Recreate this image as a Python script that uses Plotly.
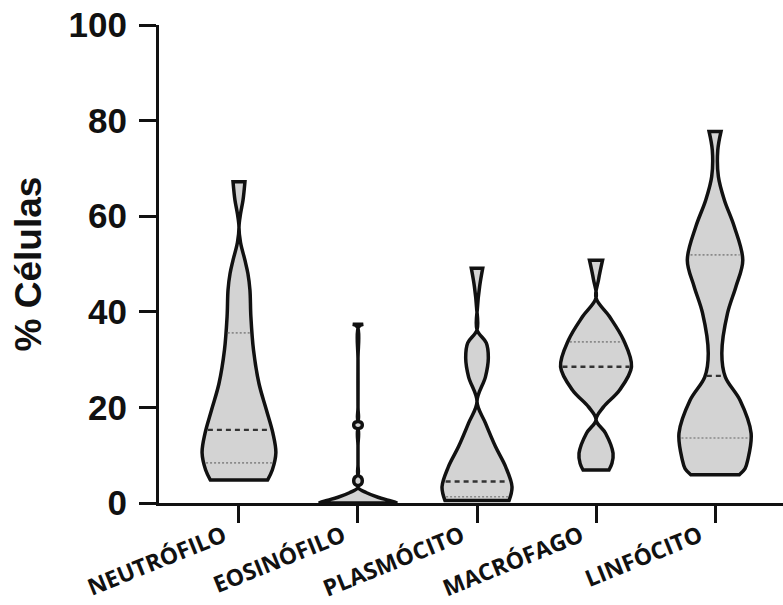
import numpy as np
import plotly.graph_objects as go

categories = ["NEUTRÓFILO", "EOSINÓFILO", "PLASMÓCITO", "MACRÓFAGO", "LINFÓCITO"]

# density profiles: level (% células) and half-width (category units)
neutro_v = [4.8, 6.9, 10.5, 14.6, 19.5, 25, 32, 39, 44.6, 48.0, 50.8, 54.5, 57.7, 60.5, 63.4, 67.2]
neutro_hw = [0.24, 0.28, 0.31, 0.285, 0.23, 0.168, 0.122, 0.10, 0.092, 0.075, 0.05, 0.013, 0.0, 0.013, 0.034, 0.05]

eosino_v = [0, 0.2, 0.6, 1.2, 2.2, 3.1, 3.5, 4.0, 4.7, 5.3, 5.9, 8, 12, 15.4, 15.8, 16.3, 16.8, 17.2, 20, 30, 36.8, 37.4]
eosino_hw = [0.328, 0.311, 0.252, 0.168, 0.067, 0.004, 0.0, 0.029, 0.036, 0.029, 0.0, 0.0, 0.0, 0.0, 0.029, 0.036, 0.029, 0.0, 0.0, 0.0, 0.004, 0.044]

plasmo_v = [0.5, 3.4, 7.6, 11.8, 16.7, 21.2, 26.4, 30.3, 33.5, 36.2, 41, 45.3, 49.1]
plasmo_hw = [0.269, 0.294, 0.24, 0.155, 0.071, 0.0, 0.071, 0.095, 0.078, 0.0, 0.004, 0.022, 0.048]

macro_v = [6.9, 8.3, 10.4, 14.6, 17.4, 20.1, 23.6, 28.5, 34.1, 39, 42.9, 46.7, 50.8]
macro_hw = [0.109, 0.134, 0.143, 0.08, 0.0, 0.063, 0.197, 0.298, 0.231, 0.113, 0.0, 0.021, 0.055]

linfo_v = [5.9, 7.2, 9, 14.6, 21.5, 26.4, 31.3, 39.7, 45.3, 50.8, 57.8, 63.4, 68.3, 73.8, 77.7]
linfo_hw = [0.204, 0.252, 0.275, 0.303, 0.21, 0.086, 0.057, 0.105, 0.176, 0.233, 0.162, 0.078, 0.028, 0.023, 0.05]

profiles_v = [neutro_v, eosino_v, plasmo_v, macro_v, linfo_v]
profiles_hw = [neutro_hw, eosino_hw, plasmo_hw, macro_hw, linfo_hw]

medians = [15.3, None, 4.5, 28.5, 26.6]
q1s = [8.4, None, 1.3, 17.4, 13.6]
q3s = [35.6, None, 21.2, 33.7, 51.9]

y_ticks = [0, 20, 40, 60, 80, 100]

fig = go.Figure()

for i, (v, hw) in enumerate(zip(profiles_v, profiles_hw)):
    c = i
    R = [(c + h, y) for h, y in zip(hw, v)]
    L = [(c - h, y) for h, y in zip(hw, v)]
    pts = [L[0], L[0], R[0], R[0]] + R[1:] + [R[-1], L[-1], L[-1]] + L[-2::-1]
    xs = [p[0] for p in pts]
    ys = [p[1] for p in pts]
    fig.add_trace(go.Scatter(
        x=xs, y=ys, mode="lines", fill="toself", fillcolor="#d3d3d3",
        line=dict(color="#111111", width=3.5, shape="spline", smoothing=1.0, simplify=False),
        hoverinfo="skip", showlegend=False))

    def qline(q, color, width, dash):
        if q is None:
            return
        w = float(np.interp(q, v, hw)) - 0.016
        if w <= 0:
            return
        fig.add_trace(go.Scatter(
            x=[c - w, c + w], y=[q, q], mode="lines",
            line=dict(color=color, width=width, dash=dash),
            hoverinfo="skip", showlegend=False))

    qline(q1s[i], "#8a8a8a", 1.6, "2px,2px")
    qline(q3s[i], "#8a8a8a", 1.6, "2px,2px")
    qline(medians[i], "#333333", 2.4, "5px,4px")

fig.update_layout(
    width=783, height=605,
    margin=dict(l=159, r=0, t=25, b=102, autoexpand=False),
    plot_bgcolor="white", paper_bgcolor="white",
    showlegend=False,
    xaxis=dict(
        range=[-0.672, 4.571], tickmode="array", tickvals=list(range(len(categories))),
        ticktext=categories, ticks="outside", ticklen=17, tickwidth=3, tickcolor="#111111",
        showline=True, linewidth=3, linecolor="#111111", showgrid=False, zeroline=False,
        automargin=False,
        tickangle=-22, ticklabelshift=-15, ticklabelstandoff=-9,
        tickfont=dict(family="Open Sans", size=23, color="#111111", weight="bold"),
    ),
    yaxis=dict(
        range=[0, 100], tickmode="array", tickvals=y_ticks,
        ticks="outside", ticklen=17, tickwidth=3, tickcolor="#111111",
        showline=True, linewidth=3, linecolor="#111111", showgrid=False, zeroline=False,
        automargin=False,
        ticklabelstandoff=5,
        tickfont=dict(family="Liberation Sans, Arial", size=35, color="#111111", weight="bold"),
        title=dict(text="% Células", standoff=16,
                   font=dict(family="Liberation Sans, Arial", size=37, color="#111111", weight="bold")),
    ),
)

fig.write_html("out.html")
